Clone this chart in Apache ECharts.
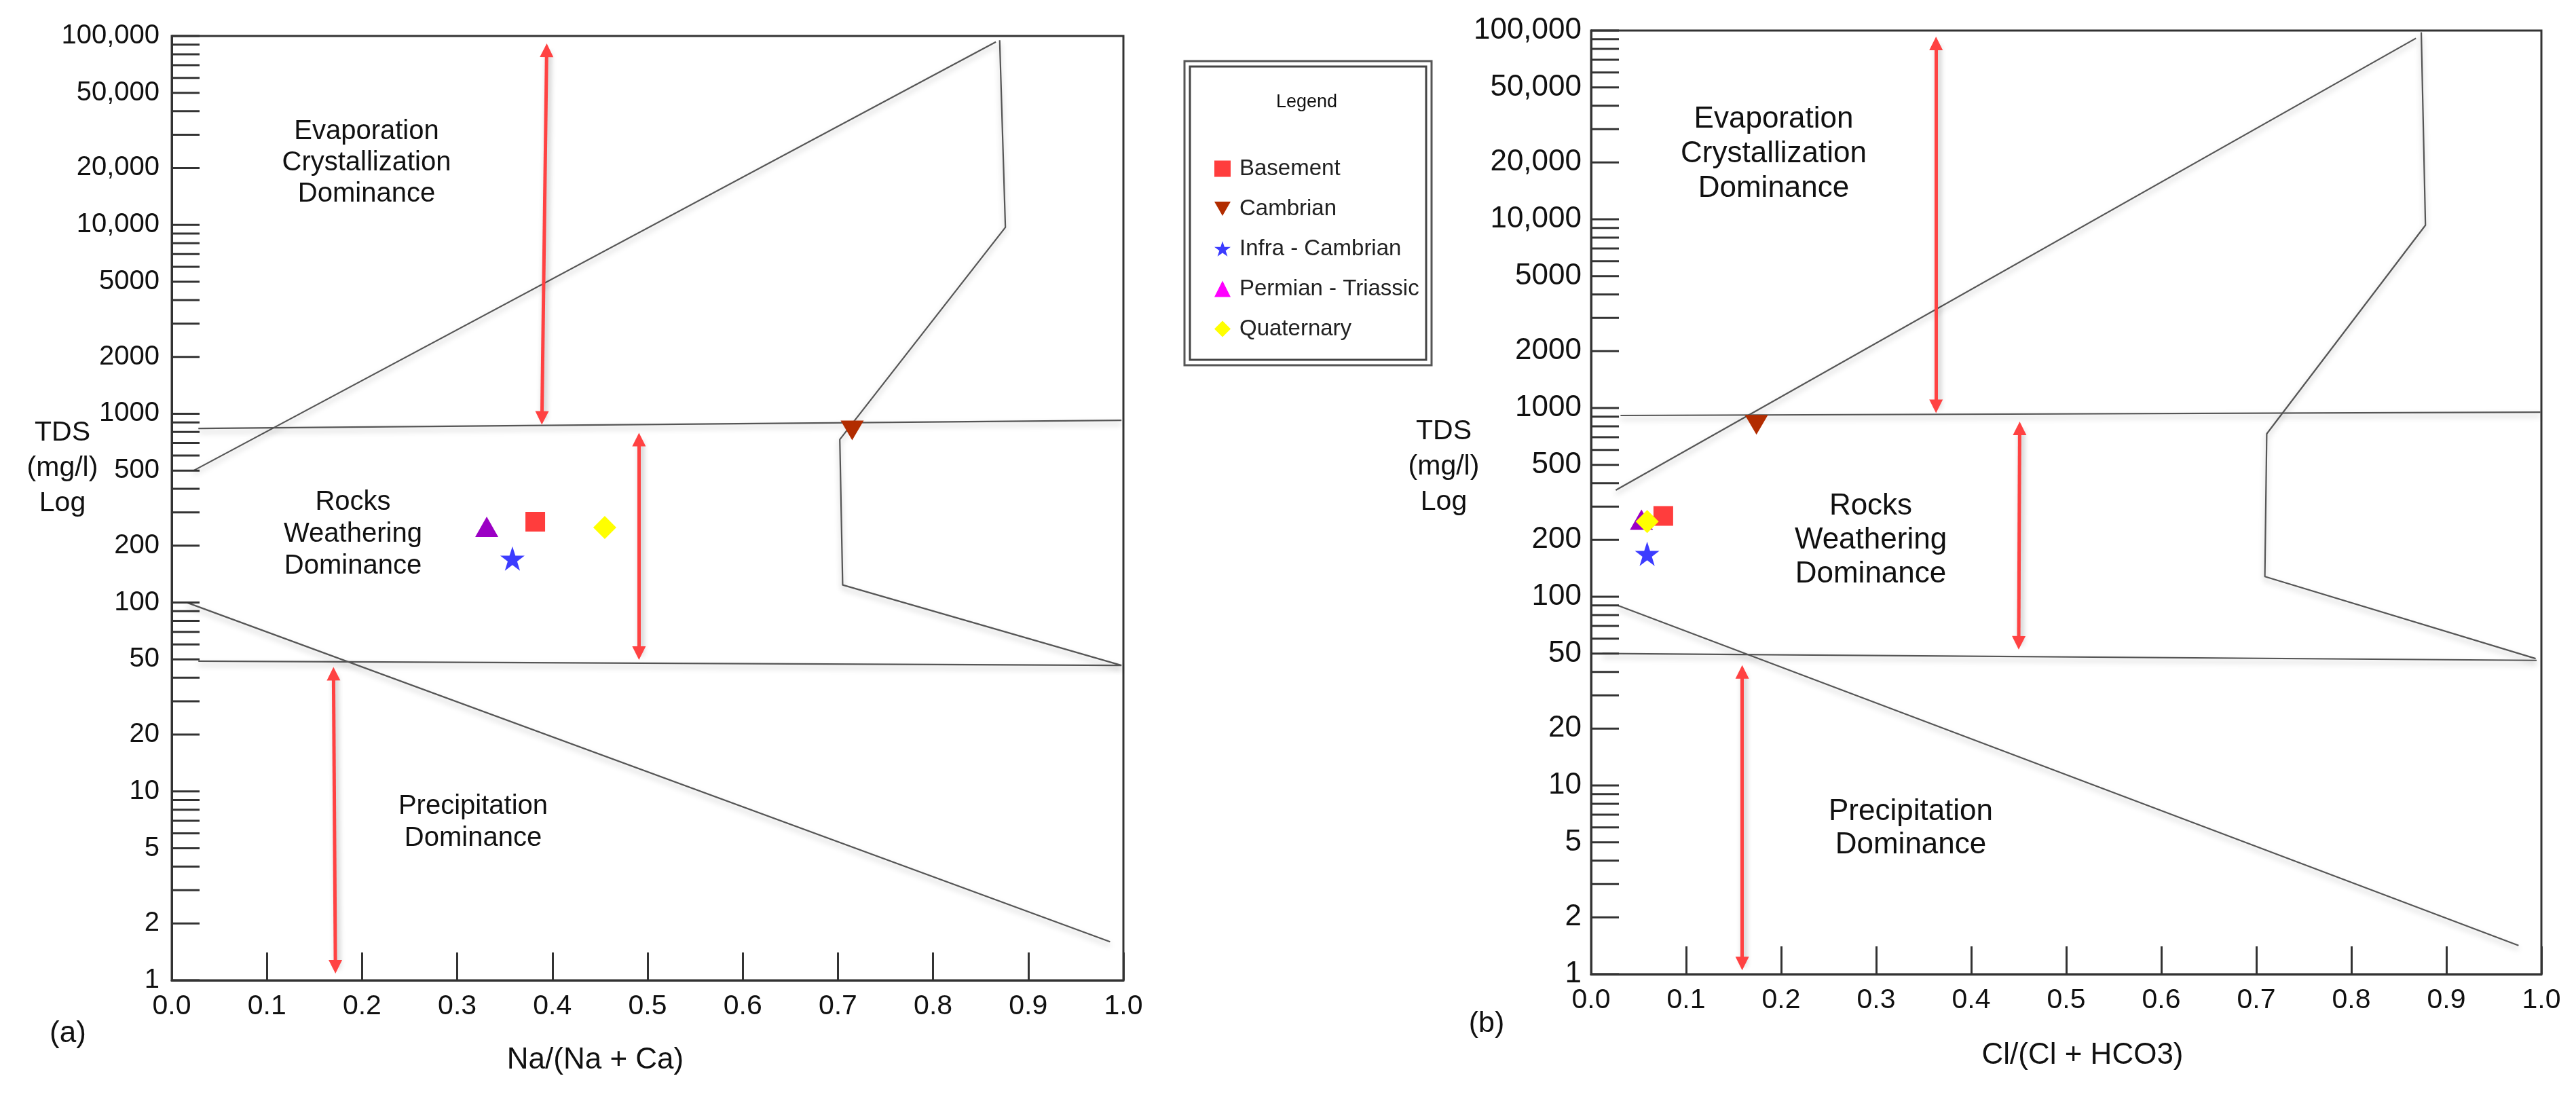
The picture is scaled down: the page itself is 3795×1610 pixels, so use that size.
<!DOCTYPE html>
<html lang="en">
<head>
<meta charset="UTF-8">
<title>Gibbs diagrams</title>
<script src="https://cdn.jsdelivr.net/npm/echarts/dist/echarts.min.js"></script>
<style>
    html, body {
        margin: 0;
        padding: 0;
        background: #fff;
    }
    #main {
        width: 3795px;
        height: 1610px;
    }
</style>
</head>
<body>
<div id="main"></div>
<script>
    var FONT = 'Liberation Sans, Arial, sans-serif';

    // y axis: every tick (1..9 x 10^n) and the labelled ones
    var yTickValues = [1, 2, 3, 4, 5, 6, 7, 8, 9,
        10, 20, 30, 40, 50, 60, 70, 80, 90,
        100, 200, 300, 400, 500, 600, 700, 800, 900,
        1000, 2000, 3000, 4000, 5000, 6000, 7000, 8000, 9000,
        10000, 20000, 30000, 40000, 50000, 60000, 70000, 80000, 90000, 100000];
    var yLabelValues = [1, 2, 5, 10, 20, 50, 100, 200, 500, 1000, 2000, 5000, 10000, 20000, 50000, 100000];
    var yLabelTexts = ['1', '2', '5', '10', '20', '50', '100', '200', '500', '1000', '2000', '5000',
        '10,000', '20,000', '50,000', '100,000'];

    var groupNames = ['Basement', 'Cambrian', 'Infra - Cambrian', 'Permian - Triassic', 'Quaternary'];

    // (a) Na/(Na + Ca) vs TDS
    var basementA = [[0.382, 268]];
    var cambrianA = [[0.715, 815]];
    var infraA = [[0.358, 171]];
    var permianA = [[0.331, 252]];
    var quaternaryA = [[0.455, 250]];

    // (b) Cl/(Cl + HCO3) vs TDS
    var basementB = [[0.076, 268]];
    var cambrianB = [[0.174, 815]];
    var infraB = [[0.059, 169]];
    var permianB = [[0.053, 256]];
    var quaternaryB = [[0.059, 250]];

    // Gibbs boundary lines, chart (a)
    var upperDiagA = [[0.023, 500], [0.866, 93000]];
    var evapBoundA = [[0.870, 95000], [0.876, 9700], [0.702, 730], [0.705, 124], [0.998, 46.5]];
    var upperHorizA = [[0.028, 836], [0.998, 923]];
    var lowerHorizA = [[0.028, 49], [0.998, 46.5]];
    var lowerDiagA = [[0.016, 100], [0.986, 1.6]];

    // Gibbs boundary lines, chart (b)
    var upperDiagB = [[0.026, 367], [0.868, 91000]];
    var evapBoundB = [[0.8736, 98000], [0.878, 9300], [0.711, 730], [0.709, 128], [0.994, 47]];
    var upperHorizB = [[0.031, 913], [0.999, 951]];
    var lowerHorizB = [[0.012, 50], [0.995, 46]];
    var lowerDiagB = [[0.028, 90], [0.976, 1.42]];

    // red double arrows
    var arrowsA = [
        [[0.389, 950], [0.394, 84000]],
        [[0.491, 730], [0.491, 54]],
        [[0.170, 42], [0.172, 1.18]]
    ];
    var arrowsB = [
        [[0.363, 1020], [0.363, 85500]],
        [[0.451, 780], [0.450, 57]],
        [[0.159, 40], [0.159, 1.14]]
    ];

    var STAR = 'path://M50,0L61.8,35.1L98.9,35.1L68.9,56.8L80.3,91.9L50,70.2L19.7,91.9L31.1,56.8L1.1,35.1L38.2,35.1Z';
    var DOWN = 'path://M0,0L100,0L50,87Z';

    var markers = [
        {symbol: 'rect', size: 29, color: '#ff3d3d'},
        {symbol: DOWN, size: [34, 29], color: '#b22c00'},
        {symbol: STAR, size: 36, color: '#3c3cff'},
        {symbol: 'triangle', size: [34, 30], color: '#9b00c4'},
        {symbol: 'diamond', size: [34, 34], color: '#ffff00'}
    ];

    function boundary(data, idx) {
        return {
            type: 'line', xAxisIndex: idx, yAxisIndex: idx, data: data,
            symbol: 'none', silent: true, z: 2,
            lineStyle: {
                color: '#555', width: 2.2,
                shadowColor: 'rgba(0,0,0,0.28)', shadowBlur: 8, shadowOffsetY: 5
            }
        };
    }

    function arrows(list, idx) {
        return {
            type: 'lines', coordinateSystem: 'cartesian2d', xAxisIndex: idx, yAxisIndex: idx,
            symbol: ['triangle', 'triangle'], symbolSize: 20, silent: true, z: 3,
            lineStyle: {
                color: '#ff4242', width: 5, opacity: 1, curveness: 0,
                shadowColor: 'rgba(0,0,0,0.3)', shadowBlur: 8, shadowOffsetX: 3, shadowOffsetY: 3
            },
            data: list.map(function (a) { return {coords: a}; })
        };
    }

    function points(k, data, idx) {
        var m = markers[k];
        return {
            type: 'scatter', name: groupNames[k], xAxisIndex: idx, yAxisIndex: idx, data: data,
            symbol: m.symbol, symbolSize: m.size, z: 6,
            itemStyle: {color: m.color, opacity: 1}
        };
    }

    function yTicks(idx, fontSize, gap) {
        return {
            type: 'custom', xAxisIndex: idx, yAxisIndex: idx, silent: true, clip: false, z: 5,
            encode: {x: 0, y: 1},
            data: yTickValues.map(function (v) { return [0, v]; }),
            renderItem: function (params, api) {
                var v = api.value(1);
                var p = api.coord([0, v]);
                var children = [{
                    type: 'line',
                    shape: {x1: p[0], y1: p[1], x2: p[0] + 41, y2: p[1]},
                    style: {stroke: '#333', lineWidth: 3}
                }];
                var k = yLabelValues.indexOf(v);
                if (k >= 0) {
                    children.push({
                        type: 'text',
                        style: {
                            text: yLabelTexts[k], x: p[0] - gap, y: p[1],
                            align: 'right', verticalAlign: 'middle',
                            fill: '#111', fontSize: fontSize, fontFamily: FONT
                        }
                    });
                }
                return {type: 'group', children: children};
            }
        };
    }

    function xAxis(idx) {
        return {
            type: 'value', gridIndex: idx, min: 0, max: 1, interval: 0.1,
            axisLine: {onZero: false, lineStyle: {color: '#333', width: 3}},
            axisTick: {inside: true, length: 41, lineStyle: {color: '#333', width: 3}},
            axisLabel: {
                margin: 18, fontSize: 41, color: '#111', fontFamily: FONT,
                formatter: function (v) { return v.toFixed(1); }
            },
            splitLine: {show: false}
        };
    }

    function yAxis(idx) {
        return {
            type: 'log', gridIndex: idx, logBase: 10, min: 1, max: 100000,
            axisLine: {onZero: false, lineStyle: {color: '#333', width: 3}},
            axisTick: {show: false},
            axisLabel: {show: false},
            splitLine: {show: false}
        };
    }

    function label(text, x, y, size, lh) {
        return {
            type: 'text', x: x, y: y, silent: true,
            style: {
                text: text, fill: '#111', fontSize: size, fontFamily: FONT, lineHeight: lh,
                align: 'center', verticalAlign: 'middle'
            }
        };
    }

    var series = [
        boundary(upperDiagA, 0), boundary(evapBoundA, 0), boundary(upperHorizA, 0),
        boundary(lowerHorizA, 0), boundary(lowerDiagA, 0),
        boundary(upperDiagB, 1), boundary(evapBoundB, 1), boundary(upperHorizB, 1),
        boundary(lowerHorizB, 1), boundary(lowerDiagB, 1),
        arrows(arrowsA, 0), arrows(arrowsB, 1),
        yTicks(0, 40, 18), yTicks(1, 44, 14)
    ];
    var dataA = [basementA, cambrianA, infraA, permianA, quaternaryA];
    var dataB = [basementB, cambrianB, infraB, permianB, quaternaryB];
    for (var k = 0; k < groupNames.length; k++) {
        series.push(points(k, dataA[k], 0));
        series.push(points(k, dataB[k], 1));
    }

    var chart = echarts.init(document.getElementById('main'));
    chart.setOption({
        animation: false,
        backgroundColor: '#fff',
        textStyle: {fontFamily: FONT},
        grid: [
            {left: 253, top: 53, width: 1402, height: 1391, show: true, borderColor: '#333', borderWidth: 3},
            {left: 2344, top: 45, width: 1400, height: 1390, show: true, borderColor: '#333', borderWidth: 3}
        ],
        xAxis: [xAxis(0), xAxis(1)],
        yAxis: [yAxis(0), yAxis(1)],
        legend: {
            orient: 'vertical', left: 1789, top: 232, padding: 0,
            itemWidth: 24, itemHeight: 24, itemGap: 26, selectedMode: false,
            textStyle: {fontSize: 33, color: '#222', fontFamily: FONT, padding: [0, 0, 0, 8]},
            data: [
                {name: 'Basement'},
                {name: 'Cambrian'},
                {name: 'Infra - Cambrian'},
                {name: 'Permian - Triassic', itemStyle: {color: '#ff00ff'}},
                {name: 'Quaternary'}
            ]
        },
        graphic: [
            {type: 'rect', silent: true, shape: {x: 1745, y: 90, width: 364, height: 448},
                style: {fill: 'none', stroke: '#555', lineWidth: 3}},
            {type: 'rect', silent: true, shape: {x: 1753, y: 98, width: 348, height: 432},
                style: {fill: 'none', stroke: '#444', lineWidth: 3}},
            label('Legend', 1925, 151, 27, 30),

            label('Evaporation\nCrystallization\nDominance', 540, 240, 40, 46),
            label('Rocks\nWeathering\nDominance', 520, 787, 40, 47),
            label('Precipitation\nDominance', 697, 1211, 40, 47),
            label('TDS\n(mg/l)\nLog', 92, 690, 41, 52),
            label('Na/(Na + Ca)', 877, 1562, 44, 50),
            label('(a)', 100, 1523, 44, 50),

            label('Evaporation\nCrystallization\nDominance', 2613, 227, 44, 51),
            label('Rocks\nWeathering\nDominance', 2756, 796, 44, 50),
            label('Precipitation\nDominance', 2815, 1220, 44, 49),
            label('TDS\n(mg/l)\nLog', 2127, 688, 41, 52),
            label('Cl/(Cl + HCO3)', 3068, 1555, 44, 50),
            label('(b)', 2190, 1508, 43, 50)
        ],
        series: series
    });
</script>
</body>
</html>
